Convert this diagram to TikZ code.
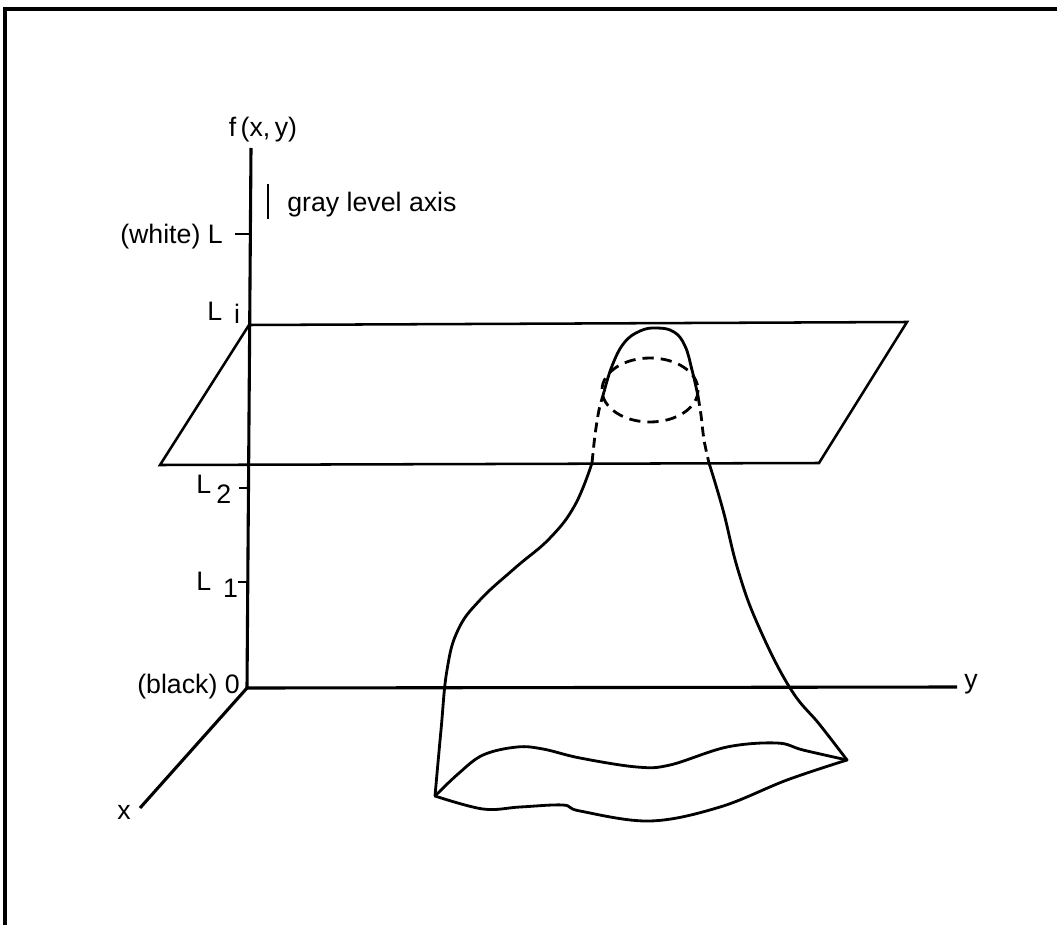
\documentclass[tikz,border=0pt]{standalone}
\usepackage{fontspec}
\setmainfont{Liberation Sans}
\begin{document}
\begin{tikzpicture}[x=0.025cm,y=-0.025cm,
  lbl/.style={inner sep=0pt,font=\fontsize{19}{22}\selectfont},
  axisline/.style={line width=2.2pt},
  planeline/.style={line width=1.8pt,line join=miter},
  surf/.style={line width=2pt,line cap=round,line join=round},
  hidden/.style={line width=2pt,dash pattern=on 7pt off 4pt},
  tickline/.style={line width=2pt}]
\useasboundingbox (0,0) rectangle (1057,925);
% frame (top and left edges)
\draw[line width=2.5pt] (1057,9) -- (5,9) -- (5,925);
% axes
\coordinate (O) at (247,688);
\coordinate (ftop) at (251,148);
\coordinate (yend) at (957,687);
\coordinate (xend) at (140,808);
\draw[axisline] (O) -- (ftop);
\draw[axisline] (O) -- (yend);
\draw[axisline] (O) -- (xend);
% ticks
\coordinate (tL) at (249,234);   \coordinate (tLa) at (235,234);
\coordinate (t2) at (248,488);   \coordinate (t2a) at (239,488);
\coordinate (t1) at (248,582);   \coordinate (t1a) at (238,582);
\draw[tickline] (tL) -- (tLa);
\draw[tickline] (t2) -- (t2a);
\draw[tickline] (t1) -- (t1a);
% plane
\coordinate (p1) at (249,325);
\coordinate (p2) at (907,322);
\coordinate (p3) at (819,463);
\coordinate (p4) at (160,465);
\draw[planeline] (p1) -- (p2) -- (p3) -- (p4) -- cycle;
% labels
\node[lbl,anchor=base] (f) at (263,137) {f\,(x,\,y)};
\coordinate (bar1) at (268,184); \coordinate (bar2) at (268,219);
\draw[line width=2pt] (bar1) -- (bar2);
\node[lbl,anchor=base west] (gray) at (287,212) {gray level axis};
\node[lbl,anchor=base east] (white) at (223,243) {(white) L};
\node[lbl,anchor=base west] (Li) at (207,320) {L\hspace{0.45em}\raisebox{-0.25ex}{i}};
\node[lbl,anchor=base west] (L2) at (196,493) {L\hspace{0.2em}\raisebox{-0.75ex}{2}};
\node[lbl,anchor=base west] (L1) at (196,590) {L\hspace{0.45em}\raisebox{-0.5ex}{1}};
\node[lbl,anchor=base east] (black) at (240,693) {(black) 0};
\node[lbl,anchor=base] (xl) at (124,819) {x};
\node[lbl,anchor=base west] (yl) at (964,688) {y};
% surface: left side (below plane)
\draw[surf] plot[smooth,tension=0.7] coordinates {(435,796) (441,730) (447,670) (458,630) (480,600) (515,568) (550,538) (575,505) (592,463)};
% left side hidden part
\draw[hidden] plot[smooth] coordinates {(592,463) (595,435) (599,410) (604,392)};
% top of the peak
\draw[surf] plot[smooth,tension=0.7] coordinates {(604,392) (612,366) (624,343) (640,331) (657,328) (674,332) (685,346) (692,370) (698,396)};
% right side hidden part
\draw[hidden] plot[smooth] coordinates {(698,396) (701,415) (704,440) (709,463)};
% right side (below plane)
\draw[surf] plot[smooth,tension=0.7] coordinates {(709,463) (723,510) (738,570) (758,625) (790,688) (820,725) (847,760)};
% dashed level contour
\draw[line width=2pt,dash pattern=on 8pt off 5pt] (650,390) ellipse [x radius=48, y radius=32];
% base
\draw[surf] plot[smooth,tension=0.6] coordinates {(435,796) (458,774) (483,755) (517,747) (543,749) (580,758) (637,767) (670,765) (727,747) (777,743) (803,750) (847,760)};
\draw[surf] plot[smooth,tension=0.6] coordinates {(435,796) (483,809) (520,807) (563,805) (580,811) (650,821) (720,807) (787,780) (847,760)};
\end{tikzpicture}
\end{document}
